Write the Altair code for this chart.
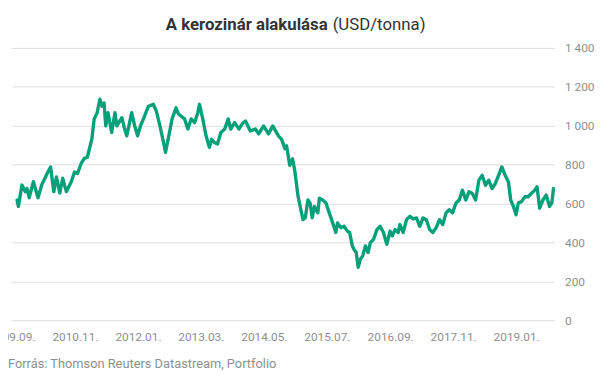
import altair as alt
import pandas as pd

# ---- data ----
# time of each observation as decimal year
time_years = [2009.760, 2009.784, 2009.851, 2009.912, 2009.943, 2009.985, 2010.063, 2010.149, 2010.216, 2010.277,
              2010.331, 2010.381, 2010.441, 2010.490, 2010.551, 2010.605, 2010.673, 2010.764, 2010.824, 2010.879,
              2010.947, 2011.007, 2011.062, 2011.147, 2011.189, 2011.244, 2011.294, 2011.335, 2011.372, 2011.403,
              2011.445, 2011.513, 2011.573, 2011.609, 2011.701, 2011.746, 2011.792, 2011.883, 2011.938, 2011.993,
              2012.047, 2012.102, 2012.193, 2012.285, 2012.340, 2012.407, 2012.486, 2012.509, 2012.571, 2012.632,
              2012.705, 2012.750, 2012.796, 2012.863, 2012.924, 2012.984, 2013.046, 2013.106, 2013.137, 2013.197,
              2013.258, 2013.320, 2013.362, 2013.411, 2013.471, 2013.532, 2013.605, 2013.667, 2013.714, 2013.787,
              2013.867, 2013.928, 2013.988, 2014.079, 2014.170, 2014.233, 2014.324, 2014.415, 2014.494, 2014.598,
              2014.658, 2014.718, 2014.749, 2014.809, 2014.859, 2014.901, 2014.963, 2015.054, 2015.096, 2015.145,
              2015.187, 2015.224, 2015.266, 2015.328, 2015.357, 2015.419, 2015.479, 2015.540, 2015.602, 2015.662,
              2015.693, 2015.753, 2015.813, 2015.876, 2015.917, 2015.967, 2015.996, 2016.040, 2016.076, 2016.118,
              2016.160, 2016.210, 2016.259, 2016.301, 2016.361, 2016.423, 2016.483, 2016.544, 2016.606, 2016.666,
              2016.708, 2016.757, 2016.817, 2016.848, 2016.909, 2016.971, 2017.031, 2017.091, 2017.153, 2017.214,
              2017.274, 2017.336, 2017.396, 2017.456, 2017.518, 2017.579, 2017.639, 2017.701, 2017.761, 2017.821,
              2017.884, 2017.944, 2018.004, 2018.066, 2018.126, 2018.187, 2018.249, 2018.309, 2018.369, 2018.431,
              2018.491, 2018.552, 2018.614, 2018.674, 2018.734, 2018.796, 2018.856, 2018.898, 2018.948, 2018.997,
              2019.039, 2019.099, 2019.161, 2019.222, 2019.282, 2019.344, 2019.386, 2019.435, 2019.495, 2019.556,
              2019.618, 2019.660, 2019.691]

# kerosene price, USD / tonne
price_usd = [618, 585, 695, 661, 677, 630, 712, 630, 695, 730,
             762, 788, 661, 737, 654, 730, 661, 712, 762, 754,
             806, 832, 838, 933, 1035, 1067, 1136, 1100, 1117, 999,
             1067, 965, 1067, 999, 1041, 990, 948, 1067, 1000, 948,
             1000, 1035, 1100, 1110, 1075, 999, 897, 863, 948, 1035,
             1092, 1060, 1050, 1035, 983, 1035, 1016, 1067, 1110, 1035,
             948, 889, 930, 914, 906, 965, 983, 1035, 983, 1016,
             983, 1010, 1024, 973, 983, 958, 999, 958, 999, 948,
             930, 882, 897, 796, 830, 770, 635, 517, 527, 618,
             600, 527, 585, 552, 627, 618, 603, 552, 502, 451,
             500, 476, 483, 458, 451, 382, 365, 348, 272, 314,
             331, 382, 348, 399, 416, 466, 483, 451, 390, 458,
             434, 466, 451, 492, 451, 517, 534, 521, 526, 483,
             526, 517, 466, 451, 476, 517, 492, 552, 568, 552,
             603, 618, 669, 618, 661, 652, 618, 720, 745, 694,
             720, 677, 703, 745, 788, 745, 711, 618, 585, 542,
             603, 610, 635, 635, 652, 669, 686, 576, 618, 644,
             585, 603, 677]

# x-axis tick dates (year, month)
x_ticks = [(2009, 9), (2010, 11), (2012, 1), (2013, 3), (2014, 5),
           (2015, 7), (2016, 9), (2017, 11), (2019, 1)]
y_ticks = [0, 200, 400, 600, 800, 1000, 1200, 1400]

title_bold = "A kerozinár alakulása"
title_unit = "(USD/tonna)"
source_text = "Forrás: Thomson Reuters Datastream, Portfolio"

assert len(time_years) == len(price_usd)


def to_ts(t):
    y = int(t)
    return pd.Timestamp(year=y, month=1, day=1) + pd.Timedelta(days=(t - y) * 365.25)


df = pd.DataFrame({"date": [to_ts(t) for t in time_years], "price": price_usd})

FONT = "Roboto"
LINE_COLOR = "#03a07a"
GRID = "#dedede"
LABEL = "#8f8f8f"

x_enc = alt.X(
    "date:T",
    scale=alt.Scale(domain=[alt.DateTime(year=2009, month=9, date=1),
                            alt.DateTime(year=2019, month=9, date=18)]),
    axis=alt.Axis(
        values=[alt.DateTime(year=y, month=m, date=1) for y, m in x_ticks],
        format="%Y.%m.", title=None, grid=False, ticks=False, domain=False,
        labelFont=FONT, labelFontSize=12, labelColor=LABEL, labelPadding=12,
        labelOverlap=False, labelBound=False, labelFlush=False,
    ),
)
y_enc = alt.Y(
    "price:Q",
    scale=alt.Scale(domain=[0, 1400], nice=False),
    axis=alt.Axis(
        orient="right", values=y_ticks, title=None, ticks=False, domain=False,
        grid=True, gridColor=GRID, gridWidth=1,
        labelExpr="replace(format(datum.value, ','), ',', ' ')",
        labelFont=FONT, labelFontSize=12, labelColor=LABEL, labelPadding=10,
        labelAlign="left",
    ),
)

line = alt.Chart(df).mark_line(
    color=LINE_COLOR, strokeWidth=3.4, strokeJoin="round", strokeCap="round"
).encode(x=x_enc, y=y_enc)

title_a = alt.Chart(pd.DataFrame({"t": [title_bold]})).mark_text(
    font=FONT, fontSize=17, fontWeight="bold", color="#333333",
    align="right", baseline="alphabetic"
).encode(text="t:N", x=alt.value(320), y=alt.value(-18))

title_b = alt.Chart(pd.DataFrame({"t": [title_unit]})).mark_text(
    font=FONT, fontSize=17, fontWeight="normal", color="#333333",
    align="left", baseline="alphabetic"
).encode(text="t:N", x=alt.value(325), y=alt.value(-18))

source = alt.Chart(pd.DataFrame({"t": [source_text]})).mark_text(
    font=FONT, fontSize=13, color=LABEL, align="left", baseline="alphabetic"
).encode(text="t:N", x=alt.value(-4), y=alt.value(324))

chart = alt.layer(line, title_a, title_b, source).properties(
    width=550, height=276,
    autosize=alt.AutoSizeParams(type="none"),
    padding={"left": 4, "top": 38, "right": 48, "bottom": 49},
    background="white",
).configure_view(stroke=None)

chart.save("out.html", embed_options={"renderer": "svg", "actions": False})
